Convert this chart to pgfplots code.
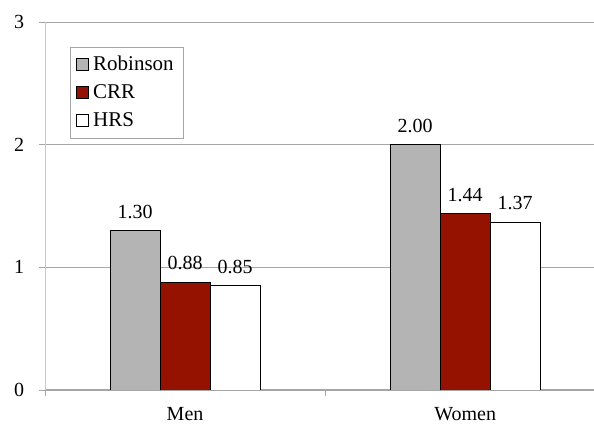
\documentclass[border=0pt]{standalone}
\usepackage{pgfplots}
\pgfplotsset{compat=1.18}
\usepackage{fontspec}
\setmainfont{Liberation Serif}
\definecolor{barGray}{HTML}{B4B4B4}
\definecolor{barRed}{HTML}{961200}
\definecolor{gridGray}{HTML}{A6A6A6}
\begin{document}
\fontsize{20}{23}\selectfont
\begin{tikzpicture}[x=1pt,y=1pt]
\useasboundingbox (-45pt,-37pt) rectangle (549pt,390pt);
\begin{axis}[
  at={(0pt,0pt)}, anchor=south west,
  scale only axis,
  width=549pt, height=368pt,
  font=\fontsize{20}{23}\selectfont,
  /pgf/number format/assume math mode=true,
  ybar=0pt,
  bar width=50pt,
  xmin=-0.5, xmax=1.46,
  ymin=0, ymax=3,
  ytick={0,1,2,3},
  xtick={0,1},
  xticklabels={Men,Women},
  minor xtick={-0.5,0.5},
  major x tick style={draw=none},
  tick align=outside,
  major tick length=6pt,
  minor tick length=6pt,
  tick style={gridGray, line width=0.8pt},
  ymajorgrids,
  grid style={gridGray, line width=0.8pt},
  axis x line*=bottom,
  axis y line*=left,
  x axis line style={gridGray, line width=1.2pt, -},
  y axis line style={gridGray!60, line width=0.8pt, -},
  nodes near coords,
  nodes near coords style={/pgf/number format/fixed, /pgf/number format/precision=2, /pgf/number format/fixed zerofill, font=\fontsize{20}{23}\selectfont, yshift=5pt},
  legend style={at={(25pt,343pt)}, anchor=north west, draw=gridGray, line width=0.8pt, font=\fontsize{21}{24}\selectfont, row sep=7pt, inner xsep=6pt, inner ysep=7pt},
  legend cell align=left,
  legend image code/.code={\draw[#1, line width=0.8pt] (0pt,-5pt) rectangle (12pt,7pt);},
  legend style={nodes={inner xsep=4pt}},
  yticklabel style={xshift=-8pt, font=\fontsize{20}{23}\selectfont},
  xticklabel style={yshift=-5pt, font=\fontsize{20}{23}\selectfont},
]
\addplot[fill=barGray, draw=black, line width=0.8pt] coordinates {(0,1.30) (1,2.00)};
\addplot[fill=barRed, draw=black, line width=0.8pt] coordinates {(0,0.88) (1,1.44)};
\addplot[fill=white, draw=black, line width=0.8pt] coordinates {(0,0.85) (1,1.37)};
\legend{Robinson, CRR, HRS}
\end{axis}
\end{tikzpicture}
\end{document}
